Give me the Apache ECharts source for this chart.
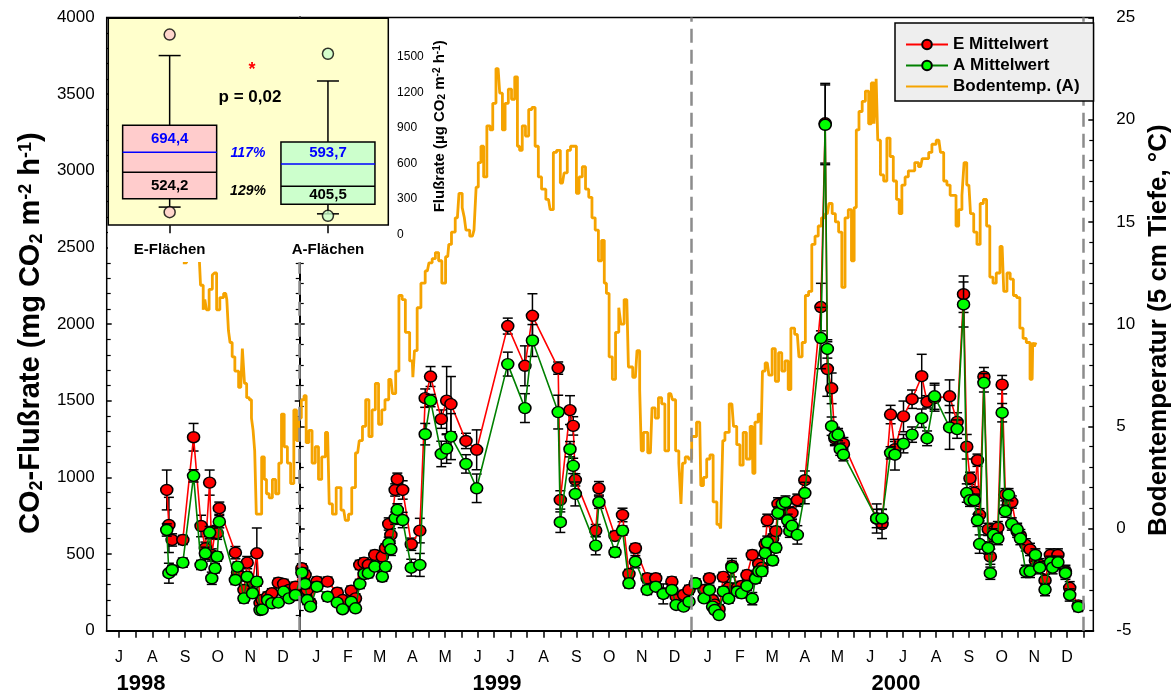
<!DOCTYPE html>
<html><head><meta charset="utf-8">
<script src="https://cdn.jsdelivr.net/npm/echarts@6/dist/echarts.min.js"></script>
<style>html,body{margin:0;padding:0;background:#fff}#c{width:1171px;height:695px}</style>
</head><body><div id="c"></div>
<script>
// ---- DATA (days counted from 1 Jan 1999) ----
const measDays = [-124,-122,-119,-109,-99,-92,-88,-84,-82,-79,-77,-75,-60,-58,-52,-49,-44,-40,-37,-35,-30,-26,-20,-15,-10,-4,
 2,5,7,10,16,26,35,40,48,52,56,60,64,70,77,80,83,85,89,91,96,104,112,117,122,132,137,141,155,165,194,210,217,241,243,252,255,257,276,279,294,301,307,313,324,332,339,347,351,358,363,
 369,377,382,385,387,391,395,400,403,408,412,417,422,425,428,431,434,436,441,444,446,450,453,455,457,459,464,471,486,490,492,496,499,502,504,507,538,543,551,555,563,571,580,585,592,606,613,619,622,625,629,632,634,638,642,644,647,651,655,658,661,664,669,672,677,681,686,690,695,700,702,707,714,718,726];
const eMean = [918,690,592,592,1262,683,538,966,494,646,636,799,509,379,266,444,320,505,180,200,222,244,313,305,266,287,
 407,364,266,179,320,320,248,200,261,211,429,444,429,494,483,538,696,625,918,988,918,564,653,1517,1658,1380,1501,1478,1238,1180,1987,1728,2054,1713,853,1439,1336,984,653,929,618,755,370,538,342,342,244,320,222,233,266,
 309,266,342,200,170,140,351,280,423,280,292,363,494,340,435,411,565,720,601,649,827,768,779,756,696,768,851,982,2111,3310,1707,1581,1255,1267,1230,1220,732,696,1410,1184,1398,1510,1660,1493,1517,1529,1362,2195,1200,994,900,1112,756,1657,661,483,649,672,1605,887,827,839,649,620,560,530,458,430,328,494,450,494,387,280,165];
const aMean = [657,375,396,444,1010,429,505,640,342,407,483,711,331,418,211,352,244,320,135,138,200,179,183,255,211,233,
 379,305,200,157,287,222,183,140,189,146,305,370,375,418,352,418,570,531,734,788,722,411,429,1282,1501,1153,1188,1266,1088,929,1739,1452,1893,1426,708,1184,1075,892,555,838,512,653,309,450,266,287,240,266,168,157,189,
 309,211,266,157,135,102,256,209,411,256,244,292,209,340,387,387,506,577,458,541,768,827,839,720,649,684,625,898,1909,3300,1838,1334,1267,1279,1184,1148,732,732,1160,1148,1220,1279,1386,1255,1529,1326,1315,2128,898,851,851,720,565,1617,540,375,625,601,1422,780,887,696,661,601,387,387,494,411,268,446,411,446,375,233,155];
const eErr = [130,180,40,30,90,70,40,82,40,40,40,40,40,30,30,40,30,165,30,30,30,30,30,30,30,30,
 30,30,30,30,30,30,30,30,30,30,30,30,30,30,30,30,40,40,40,40,60,40,80,60,65,60,222,180,50,130,52,130,144,40,60,94,60,40,40,44,30,44,30,30,30,30,30,30,30,30,30,
 30,30,30,30,30,30,30,30,30,30,30,30,30,30,30,30,30,40,30,30,40,40,40,40,40,40,40,60,155,260,178,100,40,40,40,40,95,95,60,50,100,60,143,40,85,107,60,119,80,40,40,40,40,60,40,50,40,40,60,40,40,40,40,40,40,40,40,40,40,40,40,40,40,40,30];
const aErr = [40,65,30,30,40,30,40,40,40,30,30,40,30,30,30,30,30,30,20,20,20,20,20,20,20,20,
 30,30,30,20,30,30,20,20,20,20,30,30,30,30,30,30,40,40,40,40,50,55,75,70,40,83,96,150,60,93,78,94,104,110,67,50,50,78,60,40,30,30,30,40,30,30,65,30,20,20,20,
 30,20,30,20,20,20,30,30,60,30,30,30,40,30,30,30,30,40,30,30,40,40,40,40,40,40,60,70,200,260,60,60,60,40,40,40,60,60,40,100,60,50,60,48,85,143,60,147,60,40,40,40,60,60,40,40,40,40,60,40,40,40,40,40,40,40,40,40,40,40,40,40,40,40,30];

const tempDays = [-109,-102,-94,-91,-89,-88,-86,-83,-80,-79,-76,-73,-69,-67,-66,-64,-62,-59,-55,-52,-51,-48,-46,-44,-43,-41,-40,-37,-34,-32,-30,-27,-24,-21,-18,-16,-13,-10,-7,-4,-2,
 0,3,5,7,10,13,16,19,22,26,29,32,36,41,44,47,50,54,57,60,63,66,69,72,75,78,81,85,88,91,94,97,100,105,106,108,111,115,119,122,125,128,131,134,138,140,143,147,150,153,154,156,161,164,165,168,170,173,176,179,181,185,188,190,193,196,199,202,204,206,209,212,215,218,221,224,227,232,235,238,241,245,248,251,254,257,259,262,265,268,271,274,277,280,283,285,287,290,293,296,299,300,305,308,313,316,318,319,322,327,330,333,336,339,342,346,349,352,355,356,358,361,
 364,367,373,375,378,381,384,387,391,394,395,398,403,406,409,412,415,418,422,423,426,429,431,432,436,439,442,445,448,451,454,457,459,464,467,470,473,476,479,482,485,488,492,495,498,501,504,507,510,513,516,518,520,523,526,529,532,534,537,538,540,543,546,549,552,555,558,560,563,566,569,572,575,579,582,585,588,591,596,599,602,605,608,611,613,616,619,620,624,627,630,633,636,639,642,645,648,651,655,658,661,664,667,670,673,676,679,683,684,686,687];
const tempVals = [13.0,13.6,13.6,11.9,10.7,11.2,10.7,11.7,12.4,12.5,10.7,11.3,11.5,11.2,9.7,9.1,8.4,7.7,6.9,8.8,7.1,6.4,6.3,5.4,4.8,3.8,0.7,0.7,3.5,2.4,1.7,1.5,2.4,1.7,3.2,5.6,4.0,3.2,2.2,5.8,4.3,
 5.4,6.3,6.5,4.2,4.8,3.2,4.0,2.4,3.5,4.7,1.2,0.7,2.0,0.9,0.4,0.7,2.0,3.7,4.3,5.0,6.3,4.5,5.8,7.1,5.1,5.8,6.3,7.3,6.6,7.7,11.4,11.2,9.6,8.2,7.4,8.7,10.8,12.0,12.6,13.0,13.2,13.5,13.1,12.0,13.3,13.9,14.5,15.2,16.4,15.7,15.2,14.6,14.3,14.6,16.7,17.9,18.7,17.2,19.7,19.5,20.8,22.5,21.3,19.5,20.8,21.5,21.0,22.1,18.7,18.5,19.7,19.2,20.5,20.6,18.7,17.2,16.6,16.1,15.6,18.4,18.5,16.9,17.4,18.5,18.7,18.7,16.4,17.2,17.7,16.6,16.2,15.2,14.6,13.1,14.1,12.0,11.5,8.4,7.3,9.6,10.8,10.0,11.2,7.9,7.4,8.7,6.8,3.8,4.7,3.7,5.9,5.4,6.4,6.1,3.8,6.6,6.3,3.8,3.2,1.2,3.2,3.5,
 3.4,4.5,5.2,2.1,2.5,3.4,3.6,1.3,0.2,0.0,4.3,4.7,6.1,5.0,4.1,3.1,4.7,3.4,5.0,2.7,5.2,5.6,4.1,7.7,8.1,7.5,8.8,7.2,8.6,7.7,8.2,6.8,9.8,9.5,8.4,9.1,11.4,11.6,13.9,14.3,14.8,15.2,15.4,15.9,15.4,15.0,14.5,11.8,15.2,15.6,13.1,15.7,19.5,20.4,20.9,21.4,19.8,21.8,19.8,22.0,19.0,17.3,17.0,19.1,18.2,17.0,16.1,15.4,16.8,17.2,17.5,17.5,17.9,17.7,18.1,18.1,18.4,18.8,19.0,18.4,17.0,16.8,16.3,16.3,14.8,15.6,16.3,17.9,16.8,15.4,14.5,13.9,15.9,16.1,14.8,12.3,12.0,12.5,13.8,11.6,12.5,12.2,11.4,11.3,9.8,9.3,9.1,7.3,9.1,8.9,9.1];

// inset box plot (µg CO2 m-2 h-1)
const boxCategories = ['E-Flächen', 'A-Flächen'];
const boxLow    = [230, 173];
const boxQ1     = [300, 255];
const boxMedian = [524.2, 405.5];
const boxQ3     = [922, 780];
const boxHigh   = [1511, 1296];
const boxMean   = [694.4, 593.7];
const outliersE = [187, 1688];
const outliersA = [156, 1526];
const insetTicks = [0, 300, 600, 900, 1200, 1500];
const meanRatio = '117%', medianRatio = '129%', pText = 'p = 0,02';

const monthLetters = ['J','F','M','A','M','J','J','A','S','O','N','D'];
const yearLabels = ['1998','1999','2000'];

// ---- helpers ----
const FONT = 'Liberation Sans, Arial, Helvetica, sans-serif';
const DAYMS = 86400000, BASE = Date.UTC(1999,0,1);
const dayOf = (y,m,d) => Math.round((Date.UTC(y,m,d) - BASE) / DAYMS);
const X_MIN = -180, X_MAX = 740;
const tickVals = [], labelVals = [], labelMap = {};
for (let y = 1998; y <= 2000; y++) {
  for (let m = 0; m < 12; m++) {
    const s = dayOf(y,m,1), e = dayOf(y,m+1,1), mid = (s+e)/2;
    if (s >= X_MIN && s <= X_MAX) tickVals.push(s);
    if (mid >= X_MIN && mid <= X_MAX) { tickVals.push(mid); labelVals.push(mid); labelMap[mid.toFixed(1)] = monthLetters[m]; }
  }
}
const endTick = dayOf(2001,0,1); if (endTick <= X_MAX) tickVals.push(endTick);
const yearPos = [dayOf(1998,7,6), dayOf(1999,6,4), dayOf(2000,6,10)];
const yearMap = {}; yearPos.forEach((p,i)=> yearMap[p] = yearLabels[i]);

const eData = measDays.map((d,i)=>[d, eMean[i]]);
const aData = measDays.map((d,i)=>[d, aMean[i]]);
const eErrData = measDays.map((d,i)=>[d, eMean[i], eErr[i]]);
const aErrData = measDays.map((d,i)=>[d, aMean[i], aErr[i]]);
const tempData = tempDays.map((d,i)=>[d, tempVals[i]]);

function errRender(params, api) {
  const x = api.value(0), m = api.value(1), e = api.value(2);
  const t = api.coord([x, m + e]), b = api.coord([x, m - e]);
  const c = 5, st = {stroke:'#000', lineWidth:1.5};
  return {type:'group', children:[
    {type:'line', shape:{x1:t[0],y1:t[1],x2:b[0],y2:b[1]}, style:st},
    {type:'line', shape:{x1:t[0]-c,y1:t[1],x2:t[0]+c,y2:t[1]}, style:st},
    {type:'line', shape:{x1:b[0]-c,y1:b[1],x2:b[0]+c,y2:b[1]}, style:st}
  ]};
}
const boxFill = ['#FFCCCC', '#CCFFCC'];
function fmt(v){ return v.toFixed(1).replace('.', ','); }
function boxRender(params, api) {
  const i = params.dataIndex;
  const P = v => api.coord([i, v]);
  const cx = P(0)[0], hw = 47, cap = 11;
  const yL = P(boxLow[i])[1], y1 = P(boxQ1[i])[1], yM = P(boxMedian[i])[1], y3 = P(boxQ3[i])[1], yH = P(boxHigh[i])[1], yMe = P(boxMean[i])[1];
  const st = {stroke:'#000', lineWidth:1.5};
  const yMeanLab = P((boxQ3[i] + boxMean[i]) / 2)[1];
  const yMedLab = P((boxMedian[i] + boxQ1[i]) / 2)[1];
  return {type:'group', children:[
    {type:'line', shape:{x1:cx,y1:yH,x2:cx,y2:y3}, style:st},
    {type:'line', shape:{x1:cx-cap,y1:yH,x2:cx+cap,y2:yH}, style:st},
    {type:'line', shape:{x1:cx,y1:yL,x2:cx,y2:y1}, style:st},
    {type:'line', shape:{x1:cx-cap,y1:yL,x2:cx+cap,y2:yL}, style:st},
    {type:'rect', shape:{x:cx-hw, y:y3, width:2*hw, height:y1-y3}, style:{fill:boxFill[i], stroke:'#000', lineWidth:1.5}},
    {type:'line', shape:{x1:cx-hw,y1:yM,x2:cx+hw,y2:yM}, style:st},
    {type:'line', shape:{x1:cx-hw,y1:yMe,x2:cx+hw,y2:yMe}, style:{stroke:'#0000FF', lineWidth:1.5}},
    {type:'text', style:{text:fmt(boxMean[i]), x:cx, y:yMeanLab, fill:'#0000FF', font:'bold 15px '+FONT, align:'center', verticalAlign:'middle'}},
    {type:'text', style:{text:fmt(boxMedian[i]), x:cx, y:yMedLab, fill:'#000', font:'bold 15px '+FONT, align:'center', verticalAlign:'middle'}}
  ]};
}

const subsupBig = {
  sub:{fontSize:18, fontWeight:'bold', verticalAlign:'bottom', fontFamily:FONT},
  sup:{fontSize:18, fontWeight:'bold', verticalAlign:'top', fontFamily:FONT}
};
const plain = v => String(v);

const chart = echarts.init(document.getElementById('c'), null, {renderer:'canvas'});
const option = {
  animation:false,
  backgroundColor:'#fff',
  textStyle:{fontFamily:FONT, color:'#000'},
  grid:[
    {left:106.7, right:77.7, top:17.5, bottom:64.3, containLabel:false, outerBoundsMode:'none',
     show:true, borderColor:'#000', borderWidth:1.5, backgroundColor:'transparent'},
    {left:90.5, width:316.6, top:18.3, height:216, containLabel:false, outerBoundsMode:'none'}
  ],
  legend:{
    data:['E Mittelwert','A Mittelwert',{name:'Bodentemp. (A)', itemStyle:{opacity:0}}],
    orient:'vertical', left:895, top:23, z:10,
    backgroundColor:'#EEEEEE', borderColor:'#000', borderWidth:1.5,
    padding:[13,14,6,10], itemGap:4, itemWidth:42, itemHeight:12,
    textStyle:{fontSize:17, fontWeight:'bold', color:'#000', fontFamily:FONT}
  },
  xAxis:[
    {type:'value', gridIndex:0, min:X_MIN, max:X_MAX, position:'bottom',
     axisLine:{show:true, lineStyle:{color:'#000', width:2}},
     axisTick:{show:true, customValues:tickVals, length:7, lineStyle:{color:'#000', width:1.5}},
     axisLabel:{customValues:labelVals, formatter:v=>labelMap[Number(v).toFixed(1)]||'', fontSize:16, margin:19, color:'#000'},
     splitLine:{show:false}},
    {type:'value', gridIndex:0, min:X_MIN, max:X_MAX, position:'bottom',
     axisLine:{show:false}, axisTick:{show:false},
     axisLabel:{customValues:yearPos, formatter:v=>yearMap[v]||'', fontSize:22, fontWeight:'bold', margin:42, color:'#000'},
     splitLine:{show:false}},
    {type:'category', gridIndex:1, data:boxCategories, offset:-9, z:20,
     axisLine:{show:false}, axisTick:{show:true, alignWithLabel:true, length:8, lineStyle:{color:'#000', width:1.5}},
     axisLabel:{fontSize:15, fontWeight:'bold', margin:17, color:'#000'}}
  ],
  yAxis:[
    {type:'value', gridIndex:0, min:0, max:4000, interval:500, position:'left',
     name:'CO{sub|2}-Flußrate (mg CO{sub|2} m{sup|-2} h{sup|-1})', nameLocation:'middle', nameRotate:90, nameGap:58,
     nameTextStyle:{fontSize:29, fontWeight:'bold', color:'#000', rich:subsupBig, padding:[0,18,0,0]},
     axisLine:{show:true, lineStyle:{color:'#000', width:2}},
     axisTick:{show:true, length:5, lineStyle:{color:'#000', width:1.5}},
     minorTick:{show:true, splitNumber:5, length:4, lineStyle:{color:'#000', width:1.2}},
     axisLabel:{fontSize:17, margin:12, color:'#000', formatter:plain}, splitLine:{show:false}},
    {type:'value', gridIndex:0, min:-5, max:25, interval:5, position:'right',
     name:'Bodentemperatur (5 cm Tiefe, °C)', nameLocation:'middle', nameRotate:90, nameGap:46,
     nameTextStyle:{fontSize:26, fontWeight:'bold', color:'#000', padding:[0,12,0,0]},
     axisLine:{show:true, lineStyle:{color:'#000', width:2}},
     axisTick:{show:true, length:5, lineStyle:{color:'#000', width:1.5}},
     minorTick:{show:true, splitNumber:5, length:4, lineStyle:{color:'#000', width:1.2}},
     axisLabel:{fontSize:17, margin:23, color:'#000', formatter:plain}, splitLine:{show:false}},
    {type:'value', gridIndex:1, min:0, max:1826, position:'right', offset:-19, z:20,
     name:'Flußrate (µg CO{sub|2} m{sup|-2} h{sup|-1})', nameLocation:'middle', nameRotate:90, nameGap:44,
     nameTextStyle:{fontSize:15, fontWeight:'bold', color:'#000', rich:{sub:{fontSize:10,fontWeight:'bold',verticalAlign:'bottom'}, sup:{fontSize:10,fontWeight:'bold',verticalAlign:'top'}}},
     axisLine:{show:false}, axisTick:{show:false},
     axisLabel:{customValues:insetTicks, fontSize:12, margin:9, color:'#000', formatter:plain}, splitLine:{show:false}},
    {type:'value', gridIndex:0, min:0, max:4000, interval:500, position:'left',
     axisLine:{show:false}, axisLabel:{show:false}, splitLine:{show:false},
     axisTick:{show:true, inside:true, length:5, lineStyle:{color:'#000', width:1.5}},
     minorTick:{show:true, splitNumber:5, length:4, lineStyle:{color:'#000', width:1.2}}},
    {type:'value', gridIndex:0, min:-5, max:25, interval:5, position:'right',
     axisLine:{show:false}, axisLabel:{show:false}, splitLine:{show:false},
     axisTick:{show:true, inside:true, length:5, lineStyle:{color:'#000', width:1.5}},
     minorTick:{show:true, splitNumber:5, length:4, lineStyle:{color:'#000', width:1.2}}}
  ],
  graphic:[
    {type:'rect', z:10, shape:{x:108, y:19, width:320, height:243}, style:{fill:'#fff'}},
    {type:'rect', z:11, shape:{x:108.3, y:18.3, width:280, height:206.7}, style:{fill:'#FFFFCC', stroke:'#000', lineWidth:1.5}},
    {type:'text', z:21, style:{text:'*', x:252, y:70, fill:'#FF0000', font:'bold 18px '+FONT, align:'center', verticalAlign:'middle'}},
    {type:'text', z:21, style:{text:pText, x:250, y:97, fill:'#000', font:'bold 17px '+FONT, align:'center', verticalAlign:'middle'}},
    {type:'text', z:21, style:{text:meanRatio, x:248, y:153, fill:'#0000FF', font:'italic bold 14px '+FONT, align:'center', verticalAlign:'middle'}},
    {type:'text', z:21, style:{text:medianRatio, x:248, y:191, fill:'#000', font:'italic bold 14px '+FONT, align:'center', verticalAlign:'middle'}}
  ],
  series:[
    {name:'guides', type:'line', xAxisIndex:0, yAxisIndex:0, data:[], z:1, silent:true,
     markLine:{silent:true, symbol:['none','none'], label:{show:false},
       lineStyle:{color:'#8c8c8c', type:[14,7], width:2.5},
       data:[{xAxis:dayOf(1999,0,1)},{xAxis:dayOf(2000,0,1)},{xAxis:dayOf(2001,0,1)}]}},
    {name:'Bodentemp. (A)', type:'line', xAxisIndex:0, yAxisIndex:1, data:tempData, step:'middle',
     showSymbol:false, symbol:'none', z:2, lineStyle:{color:'#F5A300', width:2.8}, itemStyle:{color:'#F5A300'}},
    {name:'E err', type:'custom', xAxisIndex:0, yAxisIndex:0, data:eErrData, renderItem:errRender, z:3, encode:{x:0, y:1}},
    {name:'E Mittelwert', type:'line', xAxisIndex:0, yAxisIndex:0, data:eData, z:3,
     symbol:'circle', symbolSize:[12,11], showAllSymbol:true,
     lineStyle:{color:'#FF0000', width:1.6}, itemStyle:{color:'#FF0000', borderColor:'#000', borderWidth:1.5}},
    {name:'A err', type:'custom', xAxisIndex:0, yAxisIndex:0, data:aErrData, renderItem:errRender, z:4, encode:{x:0, y:1}},
    {name:'A Mittelwert', type:'line', xAxisIndex:0, yAxisIndex:0, data:aData, z:4,
     symbol:'circle', symbolSize:[12,11], showAllSymbol:true,
     lineStyle:{color:'#008000', width:1.6}, itemStyle:{color:'#00FF00', borderColor:'#000', borderWidth:1.5}},
    {name:'box', type:'custom', xAxisIndex:2, yAxisIndex:2, z:20, renderItem:boxRender,
     data:boxCategories.map((c,i)=>[i, boxLow[i], boxHigh[i]]), encode:{x:0, y:[1,2]}},
    {name:'outliers', type:'scatter', xAxisIndex:2, yAxisIndex:2, z:21, symbolSize:11,
     data:[...outliersE.map(v=>({value:[0,v], itemStyle:{color:boxFill[0]}})), ...outliersA.map(v=>({value:[1,v], itemStyle:{color:boxFill[1]}}))],
     itemStyle:{borderColor:'#000', borderWidth:1.5}}
  ]
};
chart.setOption(option);
</script></body></html>
